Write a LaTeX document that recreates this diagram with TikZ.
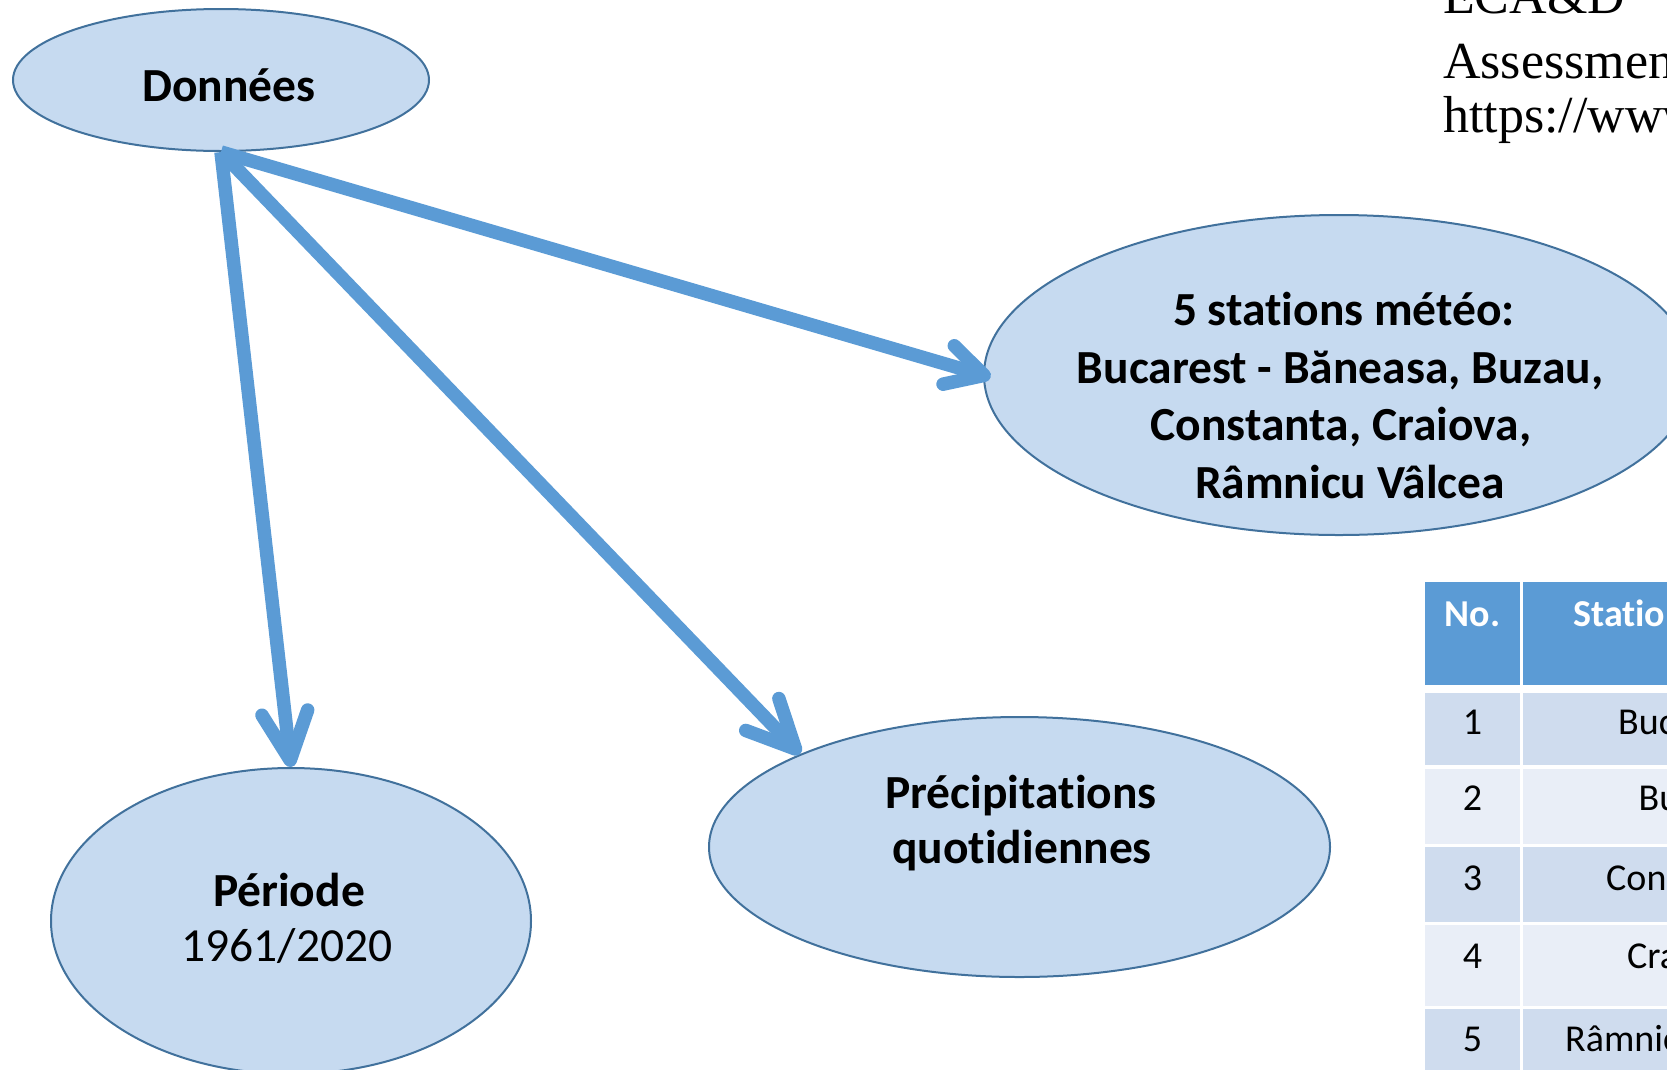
\documentclass[tikz,border=0pt]{standalone}
\usepackage{fontspec}
\setmainfont[Ligatures=NoCommon]{Carlito}
\newfontfamily\tmsfont{Liberation Serif}
\usetikzlibrary{arrows.meta,shapes.geometric}
\definecolor{ellfill}{HTML}{C6DAF0}
\definecolor{ellline}{HTML}{41719C}
\definecolor{arrcol}{HTML}{5B9BD5}
\definecolor{hdrcol}{HTML}{5B9BD5}
\definecolor{rowA}{HTML}{CFDCEE}
\definecolor{rowB}{HTML}{E9EEF7}
\begin{document}
\begin{tikzpicture}[x=1pt,y=-1pt,
  ell/.style={ellipse, draw=ellline, fill=ellfill, line width=2pt, inner sep=0pt},
  arr/.style={draw=arrcol, line width=13.5pt,
    -{Straight Barb[length=48pt,width=46pt,round]}},
  arrsmall/.style={draw=arrcol, line width=13.5pt,
    -{Straight Barb[length=37pt,width=40pt,round]}},
  big/.style={font=\fontsize{47.5}{55}\selectfont, inner sep=0pt, anchor=base},
  bigb/.style={font=\fontsize{47.5}{55}\selectfont\bfseries, inner sep=0pt, anchor=base},
  serif/.style={font=\tmsfont\fontsize{52}{56}\selectfont, inner sep=0pt, anchor=base west},
  hdrcell/.style={fill=hdrcol, draw=none},
  cellA/.style={fill=rowA, draw=none},
  cellB/.style={fill=rowB, draw=none},
  hdrtxt/.style={font=\fontsize{38}{44}\selectfont\bfseries, text=white, inner sep=0pt},
  celltxt/.style={font=\fontsize{38}{44}\selectfont, inner sep=0pt}
]
\useasboundingbox (0,0) rectangle (1667,1069);
\clip (0,0) rectangle (1667,1069);

% ellipses
\node[ell, minimum width=416pt, minimum height=142pt] (don) at (221,80) {};
\node[ell, minimum width=710pt, minimum height=320pt] (sta) at (1339,375) {};
\node[ell, minimum width=621pt, minimum height=260pt] (pre) at (1019.5,847) {};
\node[ell, minimum width=480pt, minimum height=306pt] (per) at (291,921) {};

% texts in ellipses
\node[bigb] (donT) at (229,101.7) {Données};
\node[bigb] (staT1) at (1344,325.7) {5 stations météo:};
\node[bigb] (staT2) at (1340,383.6) {Bucarest - Băneasa, Buzau,};
\node[bigb] (staT3) at (1341,440.5) {Constanta, Craiova,};
\node[bigb] (staT4) at (1350,498) {Râmnicu Vâlcea};
\node[bigb] (preT1) at (1021,808) {Précipitations};
\node[bigb] (preT2) at (1022,863) {quotidiennes};
\node[bigb] (perT1) at (289,906.7) {Période};
\node[big] (perT2) at (287,961.7) {1961/2020};

% arrows
\draw[arr] (don.south) -- (per.north);
\draw[arr] (don.south) -- (pre.157);
\draw[arrsmall, shorten >=-8pt] (don.south) -- (sta.west);

% source text (top right)
\node[serif] (src1) at (1443,13.3) {ECA\&D};
\node[serif] (src2) at (1443,78.3) {Assessment};
\node[serif] (src3) at (1443,132) {https://www.ecad.eu};

% table
\path[hdrcell] (1425,582) rectangle (1520,685);
\path[hdrcell] (1523,582) rectangle (1700,685);
\path[cellA] (1425,693) rectangle (1520,765);
\path[cellA] (1523,693) rectangle (1700,765);
\path[cellB] (1425,769) rectangle (1520,844);
\path[cellB] (1523,769) rectangle (1700,844);
\path[cellA] (1425,847) rectangle (1520,922);
\path[cellA] (1523,847) rectangle (1700,922);
\path[cellB] (1425,925) rectangle (1520,1006);
\path[cellB] (1523,925) rectangle (1700,1006);
\path[cellA] (1425,1009) rectangle (1520,1090);
\path[cellA] (1523,1009) rectangle (1700,1090);

\node[hdrtxt, anchor=base] (h1) at (1472.5,626) {No.};
\node[hdrtxt, anchor=base west] (h2) at (1573,626) {Station};
\node[celltxt, anchor=base] (n1) at (1472.5,734) {1};
\node[celltxt, anchor=base] (n2) at (1472.5,810.7) {2};
\node[celltxt, anchor=base] (n3) at (1472.5,890.7) {3};
\node[celltxt, anchor=base] (n4) at (1472.5,968) {4};
\node[celltxt, anchor=base] (n5) at (1472.5,1051.7) {5};
\node[celltxt, anchor=base west] (s1) at (1618,734) {Bucarest - Băneasa};
\node[celltxt, anchor=base west] (s2) at (1638.5,810.7) {Buzau};
\node[celltxt, anchor=base west] (s3) at (1606,890.7) {Constanta};
\node[celltxt, anchor=base west] (s4) at (1627,968) {Craiova};
\node[celltxt, anchor=base west] (s5) at (1565,1051.7) {Râmnicu Vâlcea};
\end{tikzpicture}
\end{document}
